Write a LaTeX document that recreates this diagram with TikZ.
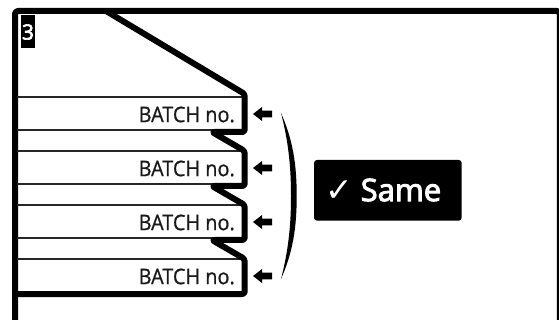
\documentclass[tikz,border=0pt]{standalone}
\usepackage{fontspec}
\setmainfont{Open Sans}
\newfontfamily\chk{DejaVu Sans}
\newfontfamily\semi[FakeBold=3]{Open Sans}
\newfontfamily\lbl[FakeBold=0.8]{Open Sans}
\tikzset{
  thickline/.style={line width=6pt,line join=round,line cap=butt,black},
  thinline/.style={line width=1.4pt,black!85},
  batch/.style={anchor=east,inner sep=0pt,xscale=0.925,font=\lbl\fontsize{21.5}{24}\selectfont,text=black!90},
  pointer/.style={fill=black,draw=none},
}
\begin{document}
\begin{tikzpicture}[x=1pt,y=-1pt]
\useasboundingbox (0,0) rectangle (559,320);
\clip (0,0) rectangle (559,320);
\fill[white] (0,0) rectangle (559,320);
% frame
\draw[thickline,rounded corners=3pt] (15,325) -- (15,11) -- (559.8,11) -- (559.8,325);
% thin rules
\foreach \y in {97,130,151,184,205,238,259}{
  \draw[thinline] (17,\y) -- (242,\y);
}
% stepped edge
\draw[thickline,rounded corners=2.5pt] (106,11) -- (244.7,94) -- (244.7,132) -- (212,132)
  -- (244.7,151) -- (244.7,186) -- (212,186)
  -- (244.7,205) -- (244.7,240) -- (212,240)
  -- (244.7,259) -- (244.7,294) -- (15,294);
% labels
\node[batch] (b1) at (235,114.5) {BATCH no.};
\node[batch] (b2) at (235,168.5) {BATCH no.};
\node[batch] (b3) at (235,222.5) {BATCH no.};
\node[batch] (b4) at (235,276.5) {BATCH no.};
% arrows
\foreach \y in {114,168,222,276}{
  \fill[pointer] (253,\y) -- (262,\y-7) -- (262,\y-3.4) -- (272,\y-3.4) -- (272,\y+3.4) -- (262,\y+3.4) -- (262,\y+7) -- cycle;
}
% bracket
\fill[black] (281,113) .. controls (293,140) and (296.7,165) .. (296.7,196)
  .. controls (296.7,227) and (293,252) .. (281,279)
  .. controls (288,252) and (291,227) .. (291,196)
  .. controls (291,165) and (288,140) .. (281,113) -- cycle;
% badge
\fill[black,rounded corners=3pt] (314,160) rectangle (461.7,220.7);
\node[anchor=center,inner sep=0pt,text=white,font=\chk\fontsize{33}{40}\selectfont] (check) at (339,191) {✓};
\node[anchor=west,inner sep=0pt,text=white,font=\semi\fontsize{31}{34}\selectfont] (same) at (360.5,190) {Same};
% page number
\fill[black] (21,15) rectangle (35,48);
\node[inner sep=0pt,text=white,font=\semi\fontsize{21}{24}\selectfont] (num) at (28,32) {3};
\end{tikzpicture}
\end{document}
